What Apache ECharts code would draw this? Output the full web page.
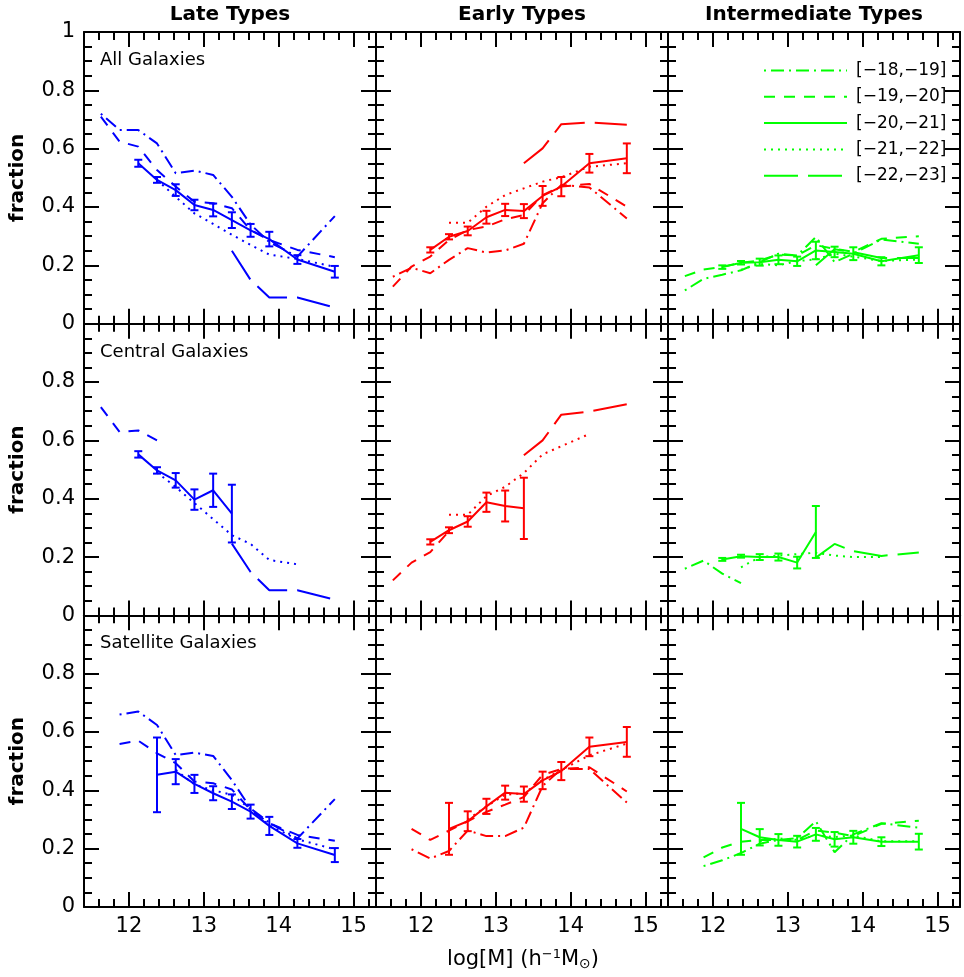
<!DOCTYPE html>
<html>
<head>
<meta charset="utf-8">
<title>Type fractions vs halo mass</title>
<script src="https://cdn.jsdelivr.net/npm/echarts@6/dist/echarts.min.js"></script>
<style>
  html, body { margin: 0; padding: 0; background: #fff; }
  #chart { width: 964px; height: 977px; }
</style>
</head>
<body>
<div id="chart"></div>
<script>
// halo mass bins, log[M] (h^-1 Msun)
const MASS = [11.625, 11.875, 12.125, 12.375, 12.625, 12.875, 13.125, 13.375, 13.625, 13.875, 14.25, 14.75];
const X_MAJOR = [12, 13, 14, 15];
const X_MINOR = [11.6, 11.8, 12.2, 12.4, 12.6, 12.8, 13.2, 13.4, 13.6, 13.8, 14.2, 14.4, 14.6, 14.8, 15.2];
const MAG_BINS = ['[\u221218,\u221219]', '[\u221219,\u221220]', '[\u221220,\u221221]', '[\u221221,\u221222]', '[\u221222,\u221223]'];
const TYPES = ['Late Types', 'Early Types', 'Intermediate Types'];
const SAMPLES = ['All Galaxies', 'Central Galaxies', 'Satellite Galaxies'];

// late types
const lateAll18 = [0.72, 0.664, 0.664, 0.618, 0.516, 0.525, 0.51, 0.435, 0.34, 0.28, 0.23, 0.369];
const lateAll19 = [0.71, 0.624, 0.607, 0.527, 0.47, 0.418, 0.413, 0.396, 0.321, 0.287, 0.253, 0.228];
const lateAll20 = [null, null, 0.55, 0.493, 0.458, 0.407, 0.39, 0.355, 0.32, 0.29, 0.22, 0.178];
const lateAll20Err = [null, null, 0.012, 0.01, 0.02, 0.018, 0.022, 0.027, 0.022, 0.025, 0.015, 0.02];
const lateAll21 = [null, null, null, 0.493, 0.435, 0.378, 0.342, 0.305, 0.27, 0.237, 0.222, 0.195];
const lateAll22 = [null, null, null, null, null, null, null, 0.25, 0.15, 0.09, 0.09, 0.055];

const lateCen19 = [0.714, 0.629, 0.634, 0.6, null, null, null, null, null, null, null, null];
const lateCen20 = [null, null, 0.552, 0.497, 0.463, 0.397, 0.429, 0.349, null, null, null, null];
const lateCen20Err = [null, null, 0.011, 0.011, 0.025, 0.035, 0.057, 0.099, null, null, null, null];
const lateCen21 = [null, null, null, 0.49, 0.44, 0.385, 0.33, 0.275, 0.245, 0.19, 0.175, null];
const lateCen22 = [null, null, null, null, null, null, null, 0.246, 0.149, 0.086, 0.086, 0.054];

const lateSat18 = [null, 0.66, 0.67, 0.624, 0.521, 0.529, 0.518, 0.435, 0.338, 0.289, 0.235, 0.37];
const lateSat19 = [null, 0.559, 0.57, 0.527, 0.493, 0.43, 0.424, 0.403, 0.333, 0.287, 0.247, 0.227];
const lateSat20 = [null, null, null, 0.453, 0.464, 0.422, 0.39, 0.361, 0.327, 0.278, 0.218, 0.178];
const lateSat20Err = [null, null, null, 0.128, 0.043, 0.031, 0.024, 0.025, 0.024, 0.031, 0.015, 0.024];
const lateSat21 = [null, null, null, null, 0.47, 0.42, 0.4, 0.385, 0.335, 0.28, 0.232, 0.198];

// early types
const earlyAll18 = [0.161, 0.192, 0.173, 0.219, 0.259, 0.244, 0.251, 0.274, 0.413, 0.476, 0.467, 0.361];
const earlyAll19 = [0.127, 0.196, 0.23, 0.287, 0.321, 0.333, 0.358, 0.373, 0.441, 0.47, 0.479, 0.401];
const earlyAll20 = [null, null, 0.253, 0.298, 0.318, 0.365, 0.39, 0.386, 0.438, 0.47, 0.55, 0.567];
const earlyAll20Err = [null, null, 0.009, 0.009, 0.015, 0.022, 0.021, 0.024, 0.034, 0.033, 0.032, 0.051];
const earlyAll21 = [null, null, null, 0.346, 0.346, 0.401, 0.441, 0.464, 0.487, 0.502, 0.538, 0.55];
const earlyAll22 = [null, null, null, null, null, null, null, 0.55, 0.601, 0.684, 0.69, 0.682];

const earlyCen19 = [0.12, 0.181, 0.217, 0.289, null, null, null, null, null, null, null, null];
const earlyCen20 = [null, null, 0.252, 0.292, 0.322, 0.388, 0.375, 0.367, null, null, null, null];
const earlyCen20Err = [null, null, 0.009, 0.01, 0.018, 0.033, 0.053, 0.105, null, null, null, null];
const earlyCen21 = [null, null, null, 0.345, 0.345, 0.409, 0.441, 0.488, 0.552, 0.58, 0.622, null];
const earlyCen22 = [null, null, null, null, null, null, null, 0.549, 0.6, 0.688, 0.699, 0.724];

const earlySat18 = [null, 0.198, 0.166, 0.192, 0.262, 0.243, 0.243, 0.272, 0.415, 0.473, 0.473, 0.358];
const earlySat19 = [null, 0.268, 0.23, 0.262, 0.294, 0.326, 0.351, 0.377, 0.453, 0.473, 0.479, 0.396];
const earlySat20 = [null, null, null, 0.268, 0.294, 0.345, 0.392, 0.387, 0.434, 0.466, 0.549, 0.566];
const earlySat20Err = [null, null, null, 0.089, 0.034, 0.026, 0.024, 0.026, 0.03, 0.031, 0.032, 0.051];
const earlySat21 = [null, null, null, null, 0.3, 0.345, 0.385, 0.39, 0.435, 0.47, 0.52, 0.56];

// intermediate types
const intAll18 = [0.114, 0.154, 0.168, 0.183, 0.211, 0.24, 0.234, 0.297, 0.211, 0.24, 0.289, 0.274];
const intAll19 = [0.163, 0.186, 0.195, 0.209, 0.217, 0.237, 0.234, 0.269, 0.257, 0.246, 0.291, 0.3];
const intAll20 = [null, null, 0.194, 0.209, 0.211, 0.219, 0.214, 0.251, 0.246, 0.24, 0.214, 0.235];
const intAll20Err = [null, null, 0.006, 0.006, 0.012, 0.015, 0.016, 0.03, 0.018, 0.022, 0.014, 0.027];
const intAll21 = [null, null, null, 0.185, 0.205, 0.2, 0.215, 0.22, 0.24, 0.23, 0.215, 0.22];
const intAll22 = [null, null, null, null, null, null, null, 0.2, 0.255, 0.245, 0.225, 0.225];

const intCen18 = [0.16, 0.188, 0.143, 0.111, null, null, null, null, null, null, null, null];
const intCen20 = [null, null, 0.192, 0.203, 0.2, 0.2, 0.181, 0.286, null, null, null, null];
const intCen20Err = [null, null, 0.005, 0.005, 0.01, 0.012, 0.02, 0.089, null, null, null, null];
const intCen21 = [null, null, null, 0.165, 0.2, 0.205, 0.21, 0.215, 0.205, 0.2, 0.2, null];
const intCen22 = [null, null, null, null, null, null, null, 0.198, 0.245, 0.22, 0.204, 0.216];

const intSat18 = [null, 0.14, 0.16, 0.185, 0.217, 0.23, 0.236, 0.294, 0.188, 0.249, 0.287, 0.272];
const intSat19 = [null, 0.17, 0.204, 0.224, 0.23, 0.23, 0.23, 0.262, 0.255, 0.243, 0.285, 0.296];
const intSat20 = [null, null, null, 0.268, 0.239, 0.23, 0.224, 0.249, 0.232, 0.239, 0.224, 0.224];
const intSat20Err = [null, null, null, 0.089, 0.028, 0.02, 0.02, 0.022, 0.025, 0.022, 0.015, 0.027];
const intSat21 = [null, null, null, null, 0.225, 0.235, 0.23, 0.245, 0.24, 0.245, 0.225, 0.225];

const BLUE = '#0000ff', RED = '#ff0000', GREEN = '#00ff00';
const FONT = '"DejaVu Sans", sans-serif';

// one entry per panel; lines: [-18,-19], [-19,-20], [-20,-21] (+err), [-21,-22], [-22,-23]
const PANELS = [
  {row: 0, col: 0, color: BLUE, lines: [lateAll18, lateAll19, lateAll20, lateAll21, lateAll22], err: lateAll20Err},
  {row: 1, col: 0, color: BLUE, lines: [null, lateCen19, lateCen20, lateCen21, lateCen22], err: lateCen20Err},
  {row: 2, col: 0, color: BLUE, lines: [lateSat18, lateSat19, lateSat20, lateSat21, null], err: lateSat20Err},
  {row: 0, col: 1, color: RED, lines: [earlyAll18, earlyAll19, earlyAll20, earlyAll21, earlyAll22], err: earlyAll20Err},
  {row: 1, col: 1, color: RED, lines: [null, earlyCen19, earlyCen20, earlyCen21, earlyCen22], err: earlyCen20Err},
  {row: 2, col: 1, color: RED, lines: [earlySat18, earlySat19, earlySat20, earlySat21, null], err: earlySat20Err},
  {row: 0, col: 2, color: GREEN, lines: [intAll18, intAll19, intAll20, intAll21, intAll22], err: intAll20Err},
  {row: 1, col: 2, color: GREEN, lines: [intCen18, null, intCen20, intCen21, intCen22], err: intCen20Err},
  {row: 2, col: 2, color: GREEN, lines: [intSat18, intSat19, intSat20, intSat21, null], err: intSat20Err}
];

// dash patterns per magnitude bin
const DASH = [[2, 5, 13, 5], [11, 9], 'solid', [2, 5], [34, 10]];

const X_MIN = 11.4, X_MAX = 15.3;
const GRID_LEFT = [84, 376, 668];
const GRID_TOP = [32, 323.7, 615.3];
const GRID_W = 292, GRID_H = 291.7;

const chart = echarts.init(document.getElementById('chart'));

const pairs = (vals) => {
  const out = [];
  vals.forEach((v, i) => { if (v != null) out.push([MASS[i], v]); });
  return out;
};

const errRender = (color) => (params, api) => {
  const x = api.value(0), y = api.value(1), e = api.value(2);
  const hi = api.coord([x, y + e]);
  const lo = api.coord([x, y - e]);
  const w = 4;
  const st = {stroke: color, lineWidth: 2, fill: null};
  return {
    type: 'group',
    children: [
      {type: 'line', shape: {x1: hi[0], y1: hi[1], x2: lo[0], y2: lo[1]}, style: st},
      {type: 'line', shape: {x1: hi[0] - w, y1: hi[1], x2: hi[0] + w, y2: hi[1]}, style: st},
      {type: 'line', shape: {x1: lo[0] - w, y1: lo[1], x2: lo[0] + w, y2: lo[1]}, style: st}
    ]
  };
};

const black = {color: '#000', width: 2};
const grids = [], xAxes = [], yAxes = [], series = [];

PANELS.forEach((p) => {
  const rect = {left: GRID_LEFT[p.col], top: GRID_TOP[p.row], width: GRID_W, height: GRID_H};
  const gMain = grids.length;
  grids.push(Object.assign({}, rect), Object.assign({}, rect));
  const gMinor = gMain + 1;
  const xIdx = xAxes.length, yIdx = yAxes.length;

  // major x ticks (bottom, top)
  ['bottom', 'top'].forEach((pos) => {
    xAxes.push({
      gridIndex: gMain, type: 'value', position: pos, min: X_MIN, max: X_MAX,
      axisLine: {show: true, onZero: false, lineStyle: black},
      axisTick: {show: true, inside: true, length: 15, customValues: X_MAJOR, lineStyle: black},
      axisLabel: {show: pos === 'bottom' && p.row === 2, customValues: X_MAJOR, margin: 9,
        color: '#000', fontSize: 21, fontFamily: FONT},
      splitLine: {show: false}
    });
  });
  // minor x ticks (bottom, top)
  ['bottom', 'top'].forEach((pos) => {
    xAxes.push({
      gridIndex: gMinor, type: 'value', position: pos, min: X_MIN, max: X_MAX,
      axisLine: {show: false, onZero: false},
      axisTick: {show: true, inside: true, length: 8, customValues: X_MINOR, lineStyle: black},
      axisLabel: {show: false},
      splitLine: {show: false}
    });
  });
  // y axes (left with labels, right mirrored)
  ['left', 'right'].forEach((pos) => {
    yAxes.push({
      gridIndex: gMain, type: 'value', position: pos, min: 0, max: 1, interval: 0.2,
      axisLine: {show: true, onZero: false, lineStyle: black},
      axisTick: {show: true, inside: true, length: 15, lineStyle: black},
      minorTick: {show: true, splitNumber: 4, length: 8, lineStyle: black},
      axisLabel: {show: pos === 'left' && p.col === 0, margin: 9, color: '#000', fontSize: 21, fontFamily: FONT,
        formatter: (v) => (v > 0.99 && p.row > 0) ? '' : String(Math.round(v * 10) / 10)},
      splitLine: {show: false}
    });
  });
  yAxes.push({gridIndex: gMinor, type: 'value', min: 0, max: 1, show: false});

  p.lines.forEach((vals, i) => {
    if (!vals) return;
    const name = (p.col === 2 && p.row === 0) ? MAG_BINS[i] : TYPES[p.col] + ' ' + SAMPLES[p.row] + ' ' + MAG_BINS[i];
    series.push({
      type: 'line', name: name, xAxisIndex: xIdx, yAxisIndex: yIdx,
      data: pairs(vals), symbol: 'none', silent: true,
      lineStyle: {color: p.color, width: 2, type: DASH[i], cap: 'butt'},
      itemStyle: {color: p.color},
      emphasis: {disabled: true}
    });
  });

  const errData = [];
  p.lines[2].forEach((v, i) => { if (v != null) errData.push([MASS[i], v, p.err[i]]); });
  series.push({
    type: 'custom', xAxisIndex: xIdx, yAxisIndex: yIdx, silent: true,
    data: errData, encode: {x: 0, y: 1}, renderItem: errRender(p.color)
  });
});

const texts = [];
TYPES.forEach((t, c) => {
  texts.push({type: 'text', x: GRID_LEFT[c] + GRID_W / 2, y: 15,
    style: {text: t, fill: '#000', font: 'bold 20px ' + FONT, align: 'center', verticalAlign: 'middle'}});
});
SAMPLES.forEach((s, r) => {
  texts.push({type: 'text', x: 100, y: GRID_TOP[r] + 28.5,
    style: {text: s, fill: '#000', font: '18px ' + FONT, align: 'left', verticalAlign: 'middle'}});
  texts.push({type: 'text', x: 18, y: GRID_TOP[r] + GRID_H / 2, rotation: Math.PI / 2,
    style: {text: 'fraction', fill: '#000', font: 'bold 20px ' + FONT, align: 'center', verticalAlign: 'middle'}});
});
texts.push({type: 'text', x: 523, y: 960,
  style: {
    text: 'log[M] (h{sup|\u22121}M{sub|\u2299})', fill: '#000', font: '21px ' + FONT,
    align: 'center', verticalAlign: 'middle',
    rich: {
      sup: {fontSize: 13, fontFamily: FONT, verticalAlign: 'top', padding: [0, 0, 10, 0]},
      sub: {fontSize: 14, fontFamily: FONT, verticalAlign: 'bottom', padding: [8, 0, 0, 0]}
    }
  }});

chart.setOption({
  animation: false,
  backgroundColor: '#fff',
  grid: grids,
  xAxis: xAxes,
  yAxis: yAxes,
  legend: {
    orient: 'vertical', left: 758, top: 57, itemWidth: 83, itemHeight: 14, itemGap: 9.3,
    selectedMode: false, data: MAG_BINS,
    itemStyle: {opacity: 0},
    textStyle: {color: '#000', fontSize: 17, fontFamily: FONT, padding: [0, 0, 0, 4]}
  },
  graphic: texts,
  series: series
});
</script>
</body>
</html>
